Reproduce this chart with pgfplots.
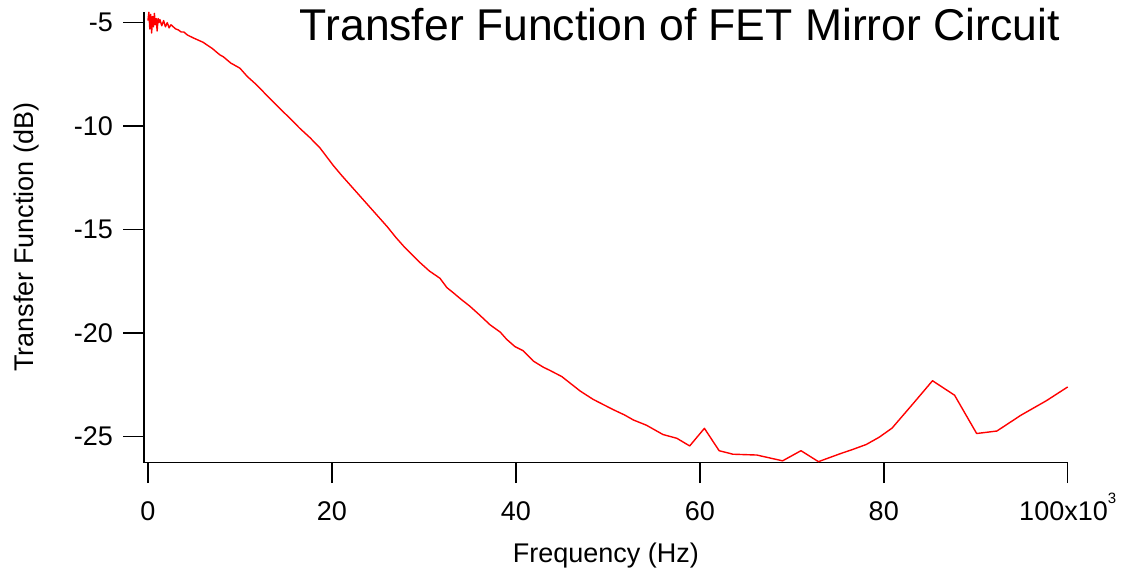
\documentclass[border=0pt]{standalone}
\usepackage{pgfplots}
\pgfplotsset{compat=1.18}
\usepackage{fontspec}
\setmainfont{Liberation Sans}
\begin{document}
\begin{tikzpicture}
\useasboundingbox (-144pt,-109.3pt) rectangle (978pt,462.7pt);
\begin{axis}[
  at={(0pt,0pt)}, anchor=south west,
  scale only axis, width=923.7pt, height=451pt,
  xmin=-0.43, xmax=100, ymin=-26.26, ymax=-4.47,
  axis x line*=bottom, axis y line*=left,
  xtick pos=bottom, ytick pos=left,
  axis line style={-, line width=1.5pt, black},
  tick align=outside, major tick length=20.5pt,
  every tick/.style={line width=1.5pt, black},
  xtick={0,20,40,60,80,100},
  xticklabels={0,20,40,60,80,{100x10\raisebox{17pt}{\fontsize{15}{17}\selectfont 3}}},
  ytick={-25,-20,-15,-10,-5},
  yticklabels={-25,-20,-15,-10,-5},
  tick label style={font=\fontsize{27}{31}\selectfont, inner sep=0pt},
  xticklabel style={anchor=base, yshift=-36.8pt},
  yticklabel style={anchor=east, xshift=-10.5pt},
  minor tick num=0,
  xlabel={Frequency (Hz)},
  ylabel={Transfer Function (dB)},
  label style={font=\fontsize{27}{31}\selectfont},
  xlabel style={at={(axis description cs:0.5,-0.2202)}, anchor=base},
  ylabel style={at={(axis description cs:-0.1191,0.5)}, anchor=base},
  title={Transfer Function of FET Mirror Circuit},
  title style={at={(axis description cs:0.9917,0.9224)}, anchor=base east, font=\fontsize{44.5}{50}\selectfont, inner sep=0pt},
  clip=false,
]
\addplot[red, line width=1.4pt, line join=round] table {
x y
0 -4.9
0.1 -4.5
0.2 -5.3
0.3 -4.6
0.4 -5.5
0.5 -4.7
0.6 -5.2
0.7 -4.55
0.8 -5.1
0.9 -4.8
1.0 -5.4
1.1 -4.8
1.2 -5.0
1.3 -4.85
1.5 -5.15
1.7 -4.9
1.9 -5.2
2.1 -5.0
2.3 -5.25
2.5 -5.1
2.75 -5.2
3.0 -5.3
3.3 -5.35
3.6 -5.45
3.9 -5.45
4.3 -5.6
5.0 -5.75
6.0 -5.95
7.0 -6.25
7.8 -6.55
8.2 -6.65
9.0 -6.95
10.0 -7.2
10.8 -7.6
11.8 -8.0
13.0 -8.55
14.35 -9.15
15.5 -9.65
16.5 -10.1
17.6 -10.55
18.7 -11.05
20.15 -11.9
21.0 -12.35
22.0 -12.85
23.0 -13.35
24.1 -13.9
25.0 -14.35
26.0 -14.85
27.0 -15.4
27.8 -15.8
28.7 -16.2
29.6 -16.6
30.6 -17.0
31.75 -17.35
32.5 -17.8
33.2 -18.05
34.0 -18.35
35.0 -18.7
36.0 -19.1
37.2 -19.6
38.3 -19.95
39.0 -20.3
39.9 -20.65
40.8 -20.85
41.9 -21.35
43.0 -21.65
43.7 -21.8
45.0 -22.1
46.0 -22.45
47.0 -22.8
48.4 -23.2
49.5 -23.45
50.6 -23.7
51.8 -23.95
52.8 -24.2
54.2 -24.45
55.2 -24.7
56.0 -24.9
57.5 -25.08
58.9 -25.45
60.5 -24.6
62.1 -25.68
63.6 -25.85
66.2 -25.89
69.0 -26.17
71.0 -25.68
72.9 -26.21
75.3 -25.82
76.5 -25.64
78.1 -25.38
79.5 -25.03
80.9 -24.59
83.3 -23.35
85.3 -22.3
87.7 -23.0
90.1 -24.85
92.3 -24.73
94.9 -23.97
97.7 -23.26
100 -22.6
};
\end{axis}
\end{tikzpicture}
\end{document}
